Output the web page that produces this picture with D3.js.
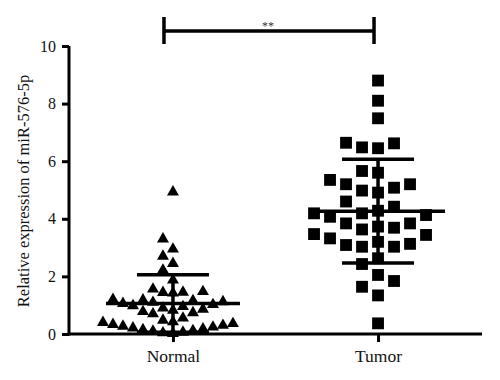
<!DOCTYPE html>
<html><head><meta charset="utf-8">
<script src="https://cdn.jsdelivr.net/npm/d3@7"></script>
<style>body{margin:0;background:#fff}</style>
</head><body>
<svg id="chart" width="500" height="380"></svg>
<script>
const categories = ["Normal", "Tumor"];
const normalValues = [4.93, 3.30, 2.95, 2.70, 2.45, 2.22, 1.87,
  1.56, 1.44, 1.42, 1.45, 1.47,
  1.20, 1.18, 1.16, 1.12, 1.10, 1.06, 1.02, 0.98, 0.95, 0.90, 0.86, 0.82, 0.78, 0.74, 0.70,
  0.55, 0.48, 0.42, 0.40, 0.36, 0.33, 0.30, 0.27, 0.24, 0.21, 0.18, 0.15, 0.12, 0.10,
  0.06, 0.04, 0.02];
const tumorValues = [8.80, 8.10, 7.49, 6.62, 6.45, 6.48, 6.64, 5.66, 5.60,
  5.20, 5.08, 5.20, 5.35, 4.91, 4.98, 4.60, 4.42,
  4.28, 4.19, 4.13, 4.07, 4.19, 3.84, 3.73, 3.63, 3.69, 3.84,
  3.47, 3.32, 3.13, 3.03, 3.03, 3.09, 3.20, 3.44,
  2.63, 2.43, 2.05, 1.84, 1.64, 1.34, 0.37];
const yTicks = [0, 2, 4, 6, 8, 10];
const yLabel = "Relative expression of miR-576-5p";
const sigLabel = "**";

const svg = d3.select("#chart");
const pLeft = 69, pRight = 482, pTop = 46, pBottom = 334;
const y = d3.scaleLinear().domain([0, 10]).range([pBottom, pTop]);
const x = d3.scalePoint().domain(categories).range([pLeft, pRight]).padding(0.507);

// beeswarm layout on a half-step lattice
function swarm(values, step, symH) {
  const sorted = values.map(v => ({v, py: y(v)})).sort((a, b) => a.v - b.v);
  const placed = [];
  sorted.forEach(p => {
    for (let k = 0; k < 200; k++) {
      const m = Math.ceil(k / 2) * (k % 2 ? -1 : 1);
      const dx = m * step / 2;
      const hit = placed.some(q => Math.abs(q.dx - dx) < step - 0.01 && Math.abs(q.py - p.py) < symH);
      if (!hit) { p.dx = dx; placed.push(p); break; }
    }
  });
  return placed;
}

const groups = [
  {cat: "Normal", values: normalValues, step: 10, symH: 11, shape: d3.symbolTriangle, size: 62},
  {cat: "Tumor", values: tumorValues, step: 16, symH: 15, shape: d3.symbolSquare, size: 140}
];

const g = svg.append("g");
groups.forEach(gr => {
  const pts = swarm(gr.values, gr.step, gr.symH);
  const cx = x(gr.cat);
  g.selectAll(null).data(pts).join("path")
    .attr("d", d3.symbol().type(gr.shape).size(gr.size))
    .attr("transform", d => `translate(${cx + d.dx},${d.py})`)
    .attr("fill", "#000");
  const mean = d3.mean(gr.values), sd = d3.deviation(gr.values);
  const line = (x1, y1, x2, y2) => g.append("line").attr("x1", x1).attr("y1", y1).attr("x2", x2).attr("y2", y2)
    .attr("stroke", "#000").attr("stroke-width", 3.5);
  line(cx - 67, y(mean), cx + 67, y(mean));
  line(cx - 36, y(mean + sd), cx + 36, y(mean + sd));
  line(cx - 36, y(Math.max(0, mean - sd)), cx + 36, y(Math.max(0, mean - sd)));
  line(cx, y(mean + sd), cx, y(Math.max(0, mean - sd)));
});

// axes
const yAxis = svg.append("g").attr("transform", `translate(${pLeft},0)`)
  .call(d3.axisLeft(y).tickValues(yTicks).tickSize(7).tickPadding(6).tickFormat(d3.format("d")));
const xAxis = svg.append("g").attr("transform", `translate(0,${pBottom})`)
  .call(d3.axisBottom(x).tickSize(8).tickPadding(8));
[yAxis, xAxis].forEach(a => {
  a.select(".domain").attr("stroke", "#000").attr("stroke-width", 3);
  a.selectAll(".tick line").attr("stroke", "#000").attr("stroke-width", 3);
  a.selectAll("text").attr("fill", "#111").attr("font-family", "Liberation Serif, serif").attr("font-size", 16);
});
xAxis.selectAll("text").attr("font-size", 17.5);
yAxis.select(".domain").attr("d", `M0,${pBottom + 1.5}V${pTop}`);
xAxis.select(".domain").attr("d", `M${pLeft - 1.5},0H${pRight}`);

svg.append("text")
  .attr("transform", `translate(25,${(pTop + pBottom) / 2 + 1}) rotate(-90)`)
  .attr("text-anchor", "middle").attr("dominant-baseline", "middle")
  .attr("font-family", "Liberation Serif, serif").attr("font-size", 16.5).attr("fill", "#111")
  .text(yLabel);

// significance bracket
const sx1 = x("Normal") - 9, sx2 = x("Tumor") - 4, sy = 31;
const sg = svg.append("g").attr("stroke", "#000").attr("stroke-width", 3.5);
sg.append("line").attr("x1", sx1).attr("x2", sx2).attr("y1", sy).attr("y2", sy);
sg.append("line").attr("x1", sx1).attr("x2", sx1).attr("y1", 17).attr("y2", 44);
sg.append("line").attr("x1", sx2).attr("x2", sx2).attr("y1", 17).attr("y2", 44);
svg.append("text").attr("x", 268).attr("y", 30).attr("text-anchor", "middle")
  .attr("font-family", "Liberation Serif, serif").attr("font-size", 12).attr("fill", "#333")
  .text(sigLabel);
</script>
</body></html>
